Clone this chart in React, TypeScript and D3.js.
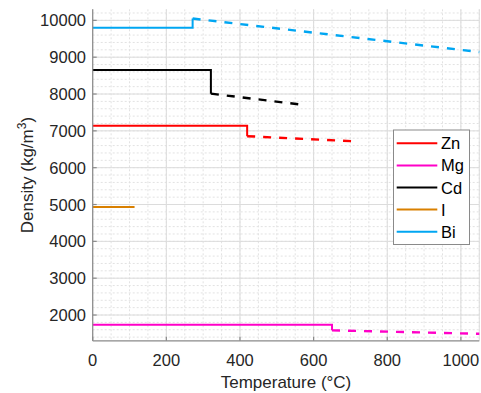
import React from "react";
import * as d3 from "d3";

const elements = ["Zn", "Mg", "Cd", "I", "Bi"];
const colors = ["#ff0000", "#ff00c8", "#000000", "#d98000", "#00a6f2"];
const meltingPoints = [419.5, 650, 321, 113.7, 271.4];
const solidDensity = [7140, 1738, 8650, 4930, 9800];
const liquidStartDensity = [6855, 1584, 8010, NaN, 10050];
const liquidEndTemp = [715, 1050, 560, NaN, 1050];
const liquidEndDensity = [6715, 1490, 7720, NaN, 9140];

const xTicks = [0, 200, 400, 600, 800, 1000];
const yTicks = [2000, 3000, 4000, 5000, 6000, 7000, 8000, 9000, 10000];
const xDomain = [0, 1050];
const yDomain = [1300, 10300];

export default function App() {
  const W = 481, H = 393;
  const left = 92.7, right = 479.3, top = 9.3, bottom = 340.8;
  const x = d3.scaleLinear().domain(xDomain).range([left, right]);
  const y = d3.scaleLinear().domain(yDomain).range([bottom, top]);
  const line = d3.line<[number, number]>().x(d => x(d[0])).y(d => y(d[1]));

  const xMinor = d3.range(0, 1051, 50);
  const yMinor = d3.range(1400, 10300, 200);
  const font = "Arial, 'Liberation Sans', Helvetica, sans-serif";

  return (
    <svg width={W} height={H} style={{ position: "absolute", left: 0, top: 0, background: "#fff" }} fontFamily={font}>
      {/* minor grid */}
      {xMinor.map(v => (
        <line key={"xm" + v} x1={x(v)} x2={x(v)} y1={top} y2={bottom} stroke="#e2e2e2" strokeWidth={1} strokeDasharray="2,2" />
      ))}
      {yMinor.map(v => (
        <line key={"ym" + v} x1={left} x2={right} y1={y(v)} y2={y(v)} stroke="#e2e2e2" strokeWidth={1} strokeDasharray="2,2" />
      ))}
      {/* major grid */}
      {xTicks.map(v => (
        <line key={"xg" + v} x1={x(v)} x2={x(v)} y1={top} y2={bottom} stroke="#dcdcdc" strokeWidth={1} />
      ))}
      {yTicks.map(v => (
        <line key={"yg" + v} x1={left} x2={right} y1={y(v)} y2={y(v)} stroke="#dcdcdc" strokeWidth={1} />
      ))}
      <line x1={right} x2={right} y1={top} y2={bottom} stroke="#dcdcdc" strokeWidth={1} />

      {/* series */}
      {elements.map((el, i) => {
        const solidPts: [number, number][] = [[0, solidDensity[i]], [meltingPoints[i], solidDensity[i]]];
        if (!isNaN(liquidStartDensity[i])) solidPts.push([meltingPoints[i], liquidStartDensity[i]]);
        return (
          <g key={el}>
            <path d={line(solidPts) || ""} fill="none" stroke={colors[i]} strokeWidth={2} />
            {!isNaN(liquidStartDensity[i]) && (
              <path
                d={line([[meltingPoints[i], liquidStartDensity[i]], [liquidEndTemp[i], liquidEndDensity[i]]]) || ""}
                fill="none" stroke={colors[i]} strokeWidth={2.4} strokeDasharray="8,8"
              />
            )}
          </g>
        );
      })}

      {/* axes */}
      <line x1={left} x2={left} y1={top} y2={bottom} stroke="#8a8a8a" strokeWidth={1.2} />
      <line x1={left} x2={right} y1={bottom} y2={bottom} stroke="#8a8a8a" strokeWidth={1.2} />
      {xTicks.map(v => (
        <g key={"xt" + v}>
          <line x1={x(v)} x2={x(v)} y1={bottom} y2={bottom - 4} stroke="#8a8a8a" strokeWidth={1.2} />
          <text x={x(v)} y={366} textAnchor="middle" fontSize={16.5} fill="#262626">{v}</text>
        </g>
      ))}
      {yTicks.map(v => (
        <g key={"yt" + v}>
          <line x1={left} x2={left + 4} y1={y(v)} y2={y(v)} stroke="#8a8a8a" strokeWidth={1.2} />
          <text x={86} y={y(v) + 6} textAnchor="end" fontSize={16.5} fill="#262626">{v}</text>
        </g>
      ))}
      <text x={(left + right) / 2} y={388} textAnchor="middle" fontSize={17} fill="#262626">Temperature (°C)</text>
      <text transform={`translate(33, ${(top + bottom) / 2}) rotate(-90)`} textAnchor="middle" fontSize={17} fill="#262626">
        Density (kg/m<tspan dy={-7} fontSize={12}>3</tspan><tspan dy={7}>)</tspan>
      </text>

      {/* legend */}
      <rect x={393.5} y={130} width={76} height={114.5} fill="#fff" stroke="#8a8a8a" strokeWidth={1} />
      {elements.map((el, i) => {
        const ly = 143.3 + i * 22.1;
        return (
          <g key={"lg" + el}>
            <line x1={396.7} x2={437.3} y1={ly} y2={ly} stroke={colors[i]} strokeWidth={2} />
            <text x={441} y={ly + 6} fontSize={16.5} fill="#000">{el}</text>
          </g>
        );
      })}
    </svg>
  );
}
